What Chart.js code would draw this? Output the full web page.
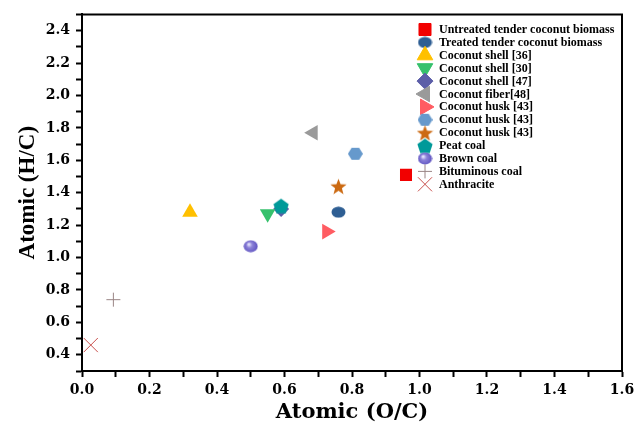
<!DOCTYPE html>
<html>
<head>
<meta charset="utf-8">
<script src="https://cdn.jsdelivr.net/npm/chart.js@4.4.1/dist/chart.umd.min.js"></script>
<style>
  html, body { margin: 0; padding: 0; background: #fff; }
  #wrap { width: 644px; height: 425px; position: relative; }
</style>
</head>
<body>
<div id="wrap"><canvas id="vk"></canvas></div>
<script>
// --- Data ---
const seriesLabels = [
    'Untreated tender coconut biomass',
    'Treated tender coconut biomass',
    'Coconut shell [36]',
    'Coconut shell [30]',
    'Coconut shell [47]',
    'Coconut fiber[48]',
    'Coconut husk [43]',
    'Coconut husk [43]',
    'Coconut husk [43]',
    'Peat coal',
    'Brown coal',
    'Bituminous coal',
    'Anthracite'
];
const ocValues = [0.96, 0.76, 0.32, 0.55, 0.59, 0.685, 0.725, 0.81, 0.76, 0.59, 0.50, 0.093, 0.026];
const hcValues = [1.51, 1.28, 1.28, 1.27, 1.30, 1.77, 1.16, 1.64, 1.44, 1.32, 1.07, 0.74, 0.46];

const xTickLabels = ['0.0', '0.2', '0.4', '0.6', '0.8', '1.0', '1.2', '1.4', '1.6'];
const yTickLabels = ['0.4', '0.6', '0.8', '1.0', '1.2', '1.4', '1.6', '1.8', '2.0', '2.2', '2.4'];

// --- Marker shapes that Chart.js lacks ---
function makeMarker(kind, color, w, h) {
    const c = document.createElement('canvas');
    c.width = w; c.height = h;
    const g = c.getContext('2d');
    const cx = w / 2, cy = h / 2;
    g.fillStyle = color;
    g.beginPath();
    if (kind === 'hexagon') {
        for (let k = 0; k < 6; k++) {
            const a = Math.PI / 3 * k;
            g.lineTo(cx + (w / 2) * Math.cos(a), cy + (h / 2) * Math.sin(a));
        }
    } else if (kind === 'pentagon') {
        const r = w / 2;
        for (let k = 0; k < 5; k++) {
            const a = -Math.PI / 2 + k * 2 * Math.PI / 5;
            g.lineTo(cx + r * Math.cos(a), cy + 1 + r * Math.sin(a));
        }
    } else if (kind === 'star') {
        const ro = w / 2, ri = ro * 0.42;
        for (let k = 0; k < 10; k++) {
            const r = k % 2 ? ri : ro;
            const a = -Math.PI / 2 + k * Math.PI / 5;
            g.lineTo(cx + r * Math.cos(a), cy + 1 + r * Math.sin(a));
        }
    } else if (kind === 'ellipse') {
        g.ellipse(cx, cy, w / 2 - 0.5, h / 2 - 0.5, 0, 0, Math.PI * 2);
    } else if (kind === 'sphere') {
        const grd = g.createRadialGradient(cx - 2, cy - 2, 0.5, cx, cy, w / 2);
        grd.addColorStop(0, '#e8e6ff');
        grd.addColorStop(0.35, '#8c82d8');
        grd.addColorStop(1, color);
        g.fillStyle = grd;
        g.ellipse(cx, cy, w / 2 - 0.5, h / 2 - 0.5, 0, 0, Math.PI * 2);
    }
    g.closePath();
    g.fill();
    return c;
}

const markerStyles = [
    { style: 'rect', rot: 0, r: 8.5, color: '#f20000' },
    { style: makeMarker('ellipse', '#2e5e93', 15, 12), rot: 0, r: 7, color: '#2e5e93' },
    { style: 'triangle', rot: 0, r: 9, color: '#ffc000' },
    { style: 'triangle', rot: 180, r: 9, color: '#36c16c' },
    { style: 'rectRot', rot: 0, r: 8, color: '#5c5ea8' },
    { style: 'triangle', rot: 270, r: 9, color: '#9a9a9a' },
    { style: 'triangle', rot: 90, r: 9, color: '#ff5c62' },
    { style: makeMarker('hexagon', '#6699cc', 15, 14), rot: 0, r: 7, color: '#6699cc' },
    { style: makeMarker('star', '#cc6a12', 17, 17), rot: 0, r: 8, color: '#cc6a12' },
    { style: makeMarker('pentagon', '#009999', 16, 16), rot: 0, r: 8, color: '#009999' },
    { style: makeMarker('sphere', '#5b4fbf', 15, 13), rot: 0, r: 7, color: '#5b4fbf' },
    { style: 'cross', rot: 0, r: 7, color: '#9a8686' },
    { style: 'crossRot', rot: 0, r: 10, color: '#c8504d' }
];

const datasets = seriesLabels.map((lab, i) => ({
    label: lab,
    data: [{ x: ocValues[i], y: hcValues[i] }],
    pointStyle: markerStyles[i].style,
    pointRotation: markerStyles[i].rot,
    pointRadius: markerStyles[i].r,
    pointHoverRadius: markerStyles[i].r,
    backgroundColor: markerStyles[i].color,
    borderColor: markerStyles[i].color,
    borderWidth: (markerStyles[i].style === 'cross' || markerStyles[i].style === 'crossRot') ? 1 : 0,
    order: i === 9 ? -1 : 0
}));

// minor ticks every 0.1
const buildTicks = (lo, hi) => {
    const out = [];
    for (let k = Math.round(lo * 10); k <= Math.round(hi * 10); k++) out.push({ value: k / 10 });
    return out;
};

const tickFont = { family: '"DejaVu Serif", serif', size: 14, weight: 'bold' };

// legend drawn inside the plot, top right
const insideLegend = {
    id: 'insideLegend',
    afterDraw(chart) {
        const ctx = chart.ctx;
        ctx.save();
        ctx.font = 'bold 12px "Liberation Serif", "Times New Roman", serif';
        ctx.textBaseline = 'middle';
        ctx.fillStyle = '#000';
        chart.data.datasets.forEach((ds, i) => {
            const y = 29.5 + i * 12.9;
            const x = 425;
            ctx.fillStyle = ds.backgroundColor;
            ctx.strokeStyle = ds.borderColor;
            ctx.lineWidth = 1;
            Chart.helpers.drawPoint(ctx, {
                pointStyle: ds.pointStyle,
                rotation: ds.pointRotation,
                radius: ds.pointRadius,
                borderWidth: 1
            }, x, y);
            ctx.fillStyle = '#000';
            ctx.fillText(ds.label, 439, y + 0.5);
        });
        // closing box lines (top and right)
        const a = chart.chartArea;
        ctx.strokeStyle = '#000';
        ctx.lineWidth = 2;
        ctx.beginPath();
        ctx.moveTo(a.left, a.top);
        ctx.lineTo(a.right, a.top);
        ctx.lineTo(a.right, a.bottom);
        ctx.stroke();
        ctx.restore();
    }
};

new Chart(document.getElementById('vk'), {
    type: 'scatter',
    data: { datasets },
    options: {
        responsive: true,
        maintainAspectRatio: false,
        animation: false,
        layout: { padding: { top: 13, right: 22, bottom: 0, left: 0 } },
        plugins: { legend: { display: false }, tooltip: { enabled: false } },
        scales: {
            x: {
                type: 'linear',
                min: 0,
                max: 1.6,
                afterBuildTicks: s => { s.ticks = buildTicks(0, 1.6); },
                afterFit: s => { s.height = 54; },
                grid: { drawOnChartArea: false, tickLength: 6, tickColor: '#000', tickWidth: 2 },
                border: { color: '#000', width: 2 },
                ticks: {
                    autoSkip: false,
                    maxRotation: 0,
                    padding: 5,
                    color: '#000',
                    font: tickFont,
                    callback: v => xTickLabels.includes(v.toFixed(1)) && Math.round(v * 10) % 2 === 0 ? v.toFixed(1) : ''
                },
                title: {
                    display: true,
                    text: 'Atomic (O/C)',
                    color: '#000',
                    font: { family: '"DejaVu Serif", serif', size: 21, weight: 'bold' },
                    padding: { top: 0, bottom: 0 }
                }
            },
            y: {
                type: 'linear',
                min: 0.3,
                max: 2.5,
                afterBuildTicks: s => { s.ticks = buildTicks(0.3, 2.5); },
                afterFit: s => { s.width = 82; },
                grid: { drawOnChartArea: false, tickLength: 6, tickColor: '#000', tickWidth: 2 },
                border: { color: '#000', width: 2 },
                ticks: {
                    autoSkip: false,
                    padding: 6,
                    color: '#000',
                    font: tickFont,
                    callback: v => yTickLabels.includes(v.toFixed(1)) && Math.round(v * 10) % 2 === 0 ? v.toFixed(1) : ''
                },
                title: {
                    display: true,
                    text: 'Atomic (H/C)',
                    color: '#000',
                    font: { family: '"Liberation Serif", "Times New Roman", serif', size: 23, weight: 'bold' },
                    padding: { top: 14, bottom: 0 }
                }
            }
        }
    },
    plugins: [insideLegend]
});
</script>
</body>
</html>
